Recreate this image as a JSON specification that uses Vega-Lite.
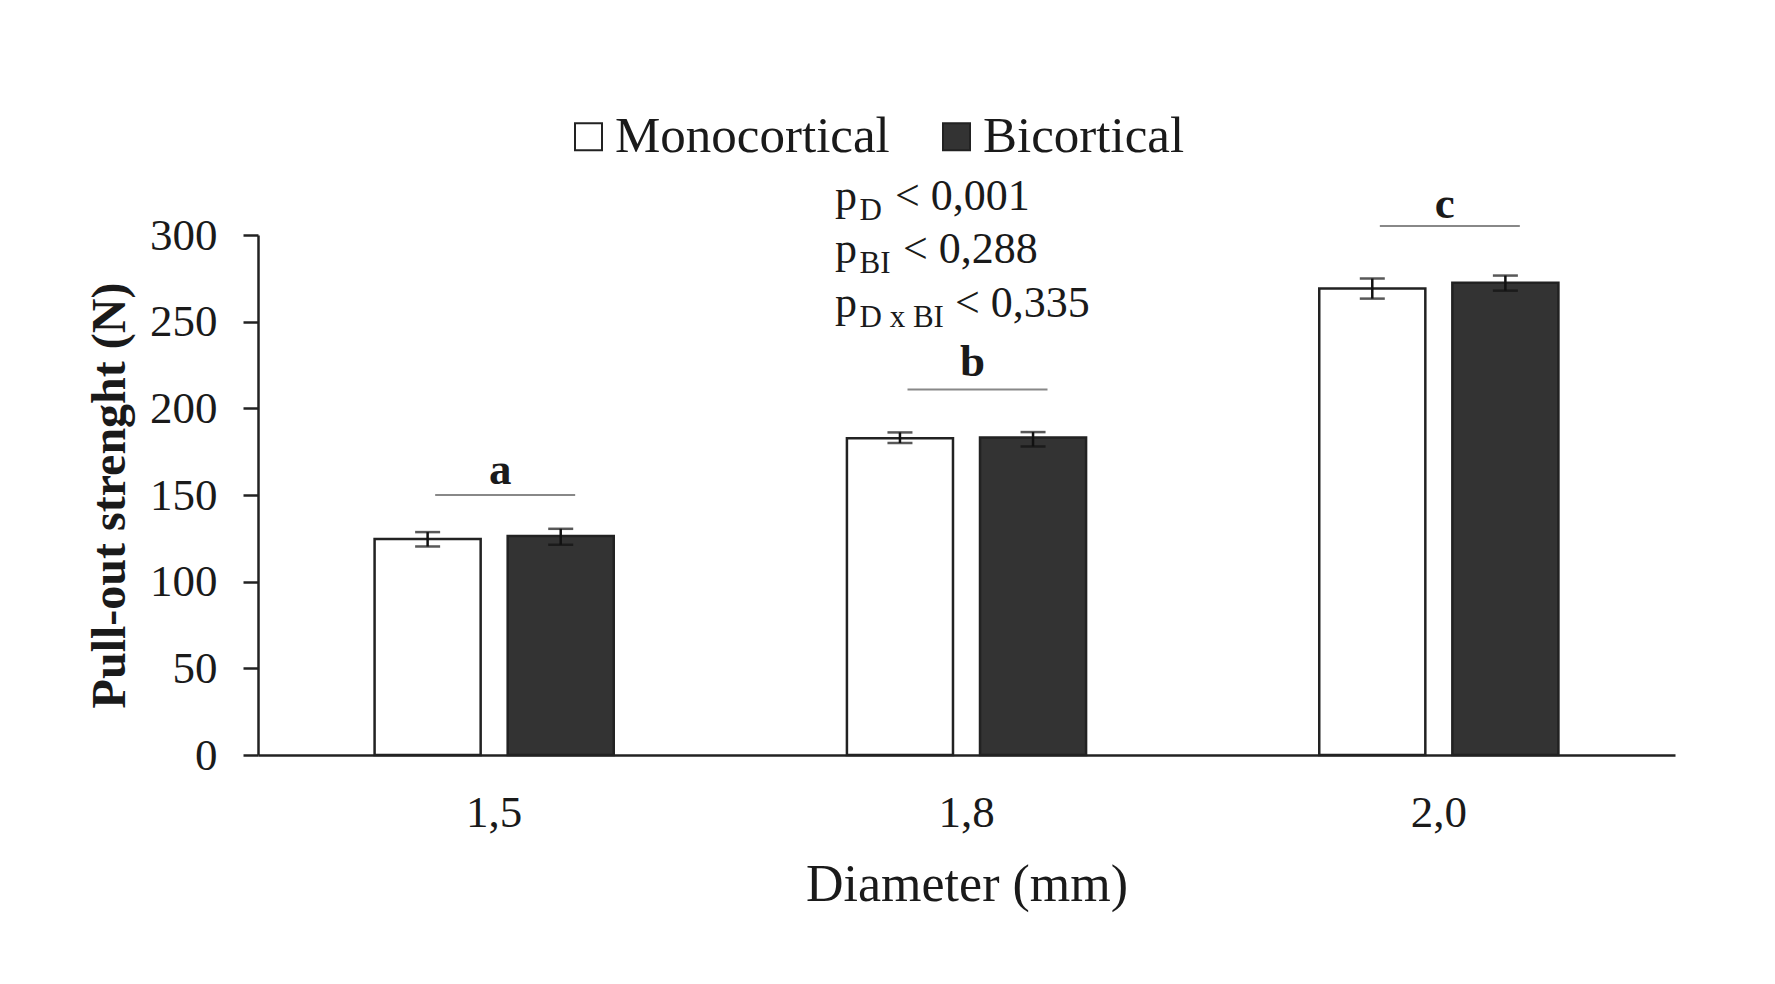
{
  "$schema": "https://vega.github.io/schema/vega-lite/v6.json",
  "width": 1417,
  "height": 520,
  "autosize": {"type": "none"},
  "padding": {"left": 258, "top": 235, "right": 100, "bottom": 229},
  "background": "white",
  "config": {
    "view": {"stroke": null},
    "font": "Liberation Serif",
    "axis": {"labelFont": "Liberation Serif", "titleFont": "Liberation Serif", "labelColor": "#1a1a1a", "titleColor": "#1a1a1a", "domainColor": "#222222", "tickColor": "#222222"},
    "legend": {"labelFont": "Liberation Serif", "labelLimit": 0}
  },
  "datasets": {
    "bars": [
      {"d": "1,5", "type": "Monocortical", "mean": 124.6, "lo": 120.3, "hi": 128.6},
      {"d": "1,5", "type": "Bicortical", "mean": 126.3, "lo": 121.3, "hi": 130.5},
      {"d": "1,8", "type": "Monocortical", "mean": 182.8, "lo": 180.0, "hi": 186.1},
      {"d": "1,8", "type": "Bicortical", "mean": 183.2, "lo": 178.0, "hi": 186.3},
      {"d": "2,0", "type": "Monocortical", "mean": 269.1, "lo": 263.3, "hi": 274.9},
      {"d": "2,0", "type": "Bicortical", "mean": 272.4, "lo": 267.9, "hi": 276.6}
    ],
    "sig": [
      {"d": "1,5", "letter": "a", "line": 150.0, "ly": 156.2},
      {"d": "1,8", "letter": "b", "line": 210.8, "ly": 218.5},
      {"d": "2,0", "letter": "c", "line": 305.2, "ly": 309.8}
    ],
    "pv": [
      {"d": "1,8", "n": 1, "sub": "D", "rest": "< 0,001", "y": 314.7},
      {"d": "1,8", "n": 2, "sub": "BI", "rest": "< 0,288", "y": 284.1},
      {"d": "1,8", "n": 3, "sub": "D x BI", "rest": "< 0,335", "y": 252.9}
    ]
  },
  "layer": [
    {
      "data": {"name": "bars"},
      "mark": {"type": "bar", "stroke": "#222222", "strokeWidth": 2.5},
      "encoding": {
        "x": {"field": "d", "type": "nominal", "scale": {"domain": ["1,5", "1,8", "2,0"], "paddingInner": 0, "paddingOuter": 0},
          "axis": {"title": "Diameter (mm)", "labelAngle": 0, "ticks": false, "labelFontSize": 45, "labelPadding": 35, "titleFontSize": 52, "titleFontWeight": "normal", "titlePadding": 24, "domainWidth": 2.5}},
        "xOffset": {"field": "type", "type": "nominal", "scale": {"domain": ["Monocortical", "Bicortical"], "paddingInner": 0.203, "paddingOuter": 0.876}},
        "y": {"field": "mean", "type": "quantitative", "scale": {"domain": [0, 300], "nice": false},
          "axis": {"title": "Pull-out strenght (N)", "values": [0, 50, 100, 150, 200, 250, 300], "grid": false, "tickSize": 15, "tickWidth": 2.5, "domainWidth": 2.5, "labelPadding": 26, "labelFontSize": 45, "titleFontSize": 48, "titleFontWeight": "bold", "titlePadding": 15}},
        "fill": {"field": "type", "type": "nominal", "scale": {"domain": ["Monocortical", "Bicortical"], "range": ["#ffffff", "#333333"]},
          "legend": {"title": null, "orient": "none", "direction": "horizontal", "legendX": 305, "legendY": -124, "symbolType": "square", "symbolSize": 729, "symbolStrokeColor": "#222222", "symbolStrokeWidth": 2, "labelFont": "Liberation Serif", "labelFontSize": 51, "labelLimit": 0, "labelOffset": 1, "columnPadding": 41, "labelColor": "#1a1a1a", "padding": 0}}
      }
    },
    {
      "data": {"name": "bars"},
      "mark": {"type": "rule", "stroke": "#111111", "strokeWidth": 2.5},
      "encoding": {
        "x": {"field": "d", "type": "nominal"},
        "xOffset": {"field": "type", "type": "nominal"},
        "y": {"field": "lo", "type": "quantitative"},
        "y2": {"field": "hi"}
      }
    },
    {
      "data": {"name": "bars"},
      "mark": {"type": "tick", "color": "#111111", "size": 25, "thickness": 2.5, "orient": "horizontal"},
      "encoding": {
        "x": {"field": "d", "type": "nominal"},
        "xOffset": {"field": "type", "type": "nominal"},
        "y": {"field": "lo", "type": "quantitative"}
      }
    },
    {
      "data": {"name": "bars"},
      "mark": {"type": "tick", "color": "#111111", "size": 25, "thickness": 2.5, "orient": "horizontal"},
      "encoding": {
        "x": {"field": "d", "type": "nominal"},
        "xOffset": {"field": "type", "type": "nominal"},
        "y": {"field": "hi", "type": "quantitative"}
      }
    },
    {
      "data": {"name": "sig"},
      "mark": {"type": "tick", "color": "#555555", "size": 140, "thickness": 2, "orient": "horizontal", "xOffset": 11},
      "encoding": {
        "x": {"field": "d", "type": "nominal"},
        "y": {"field": "line", "type": "quantitative"}
      }
    },
    {
      "data": {"name": "sig"},
      "mark": {"type": "text", "font": "Liberation Serif", "fontWeight": "bold", "fontSize": 45, "baseline": "alphabetic", "align": "center", "dx": 6, "color": "#1a1a1a"},
      "encoding": {
        "x": {"field": "d", "type": "nominal"},
        "y": {"field": "ly", "type": "quantitative"},
        "text": {"field": "letter"}
      }
    },
    {
      "data": {"name": "pv"},
      "mark": {"type": "text", "font": "Liberation Serif", "fontSize": 44, "baseline": "alphabetic", "align": "left", "dx": -131.5, "color": "#1a1a1a"},
      "encoding": {
        "x": {"field": "d", "type": "nominal"},
        "y": {"field": "y", "type": "quantitative"},
        "text": {"value": "p"}
      }
    },
    {
      "data": {"name": "pv"},
      "mark": {"type": "text", "font": "Liberation Serif", "fontSize": 31, "baseline": "alphabetic", "align": "left", "dx": -107, "dy": 10, "color": "#1a1a1a"},
      "encoding": {
        "x": {"field": "d", "type": "nominal"},
        "y": {"field": "y", "type": "quantitative"},
        "text": {"field": "sub"}
      }
    },
    {
      "data": {"name": "pv"},
      "transform": [{"filter": "datum.n == 1"}],
      "mark": {"type": "text", "font": "Liberation Serif", "fontSize": 44, "baseline": "alphabetic", "align": "left", "dx": -71.5, "color": "#1a1a1a"},
      "encoding": {
        "x": {"field": "d", "type": "nominal"},
        "y": {"field": "y", "type": "quantitative"},
        "text": {"field": "rest"}
      }
    },
    {
      "data": {"name": "pv"},
      "transform": [{"filter": "datum.n == 2"}],
      "mark": {"type": "text", "font": "Liberation Serif", "fontSize": 44, "baseline": "alphabetic", "align": "left", "dx": -63.5, "color": "#1a1a1a"},
      "encoding": {
        "x": {"field": "d", "type": "nominal"},
        "y": {"field": "y", "type": "quantitative"},
        "text": {"field": "rest"}
      }
    },
    {
      "data": {"name": "pv"},
      "transform": [{"filter": "datum.n == 3"}],
      "mark": {"type": "text", "font": "Liberation Serif", "fontSize": 44, "baseline": "alphabetic", "align": "left", "dx": -11.5, "color": "#1a1a1a"},
      "encoding": {
        "x": {"field": "d", "type": "nominal"},
        "y": {"field": "y", "type": "quantitative"},
        "text": {"field": "rest"}
      }
    }
  ]
}
